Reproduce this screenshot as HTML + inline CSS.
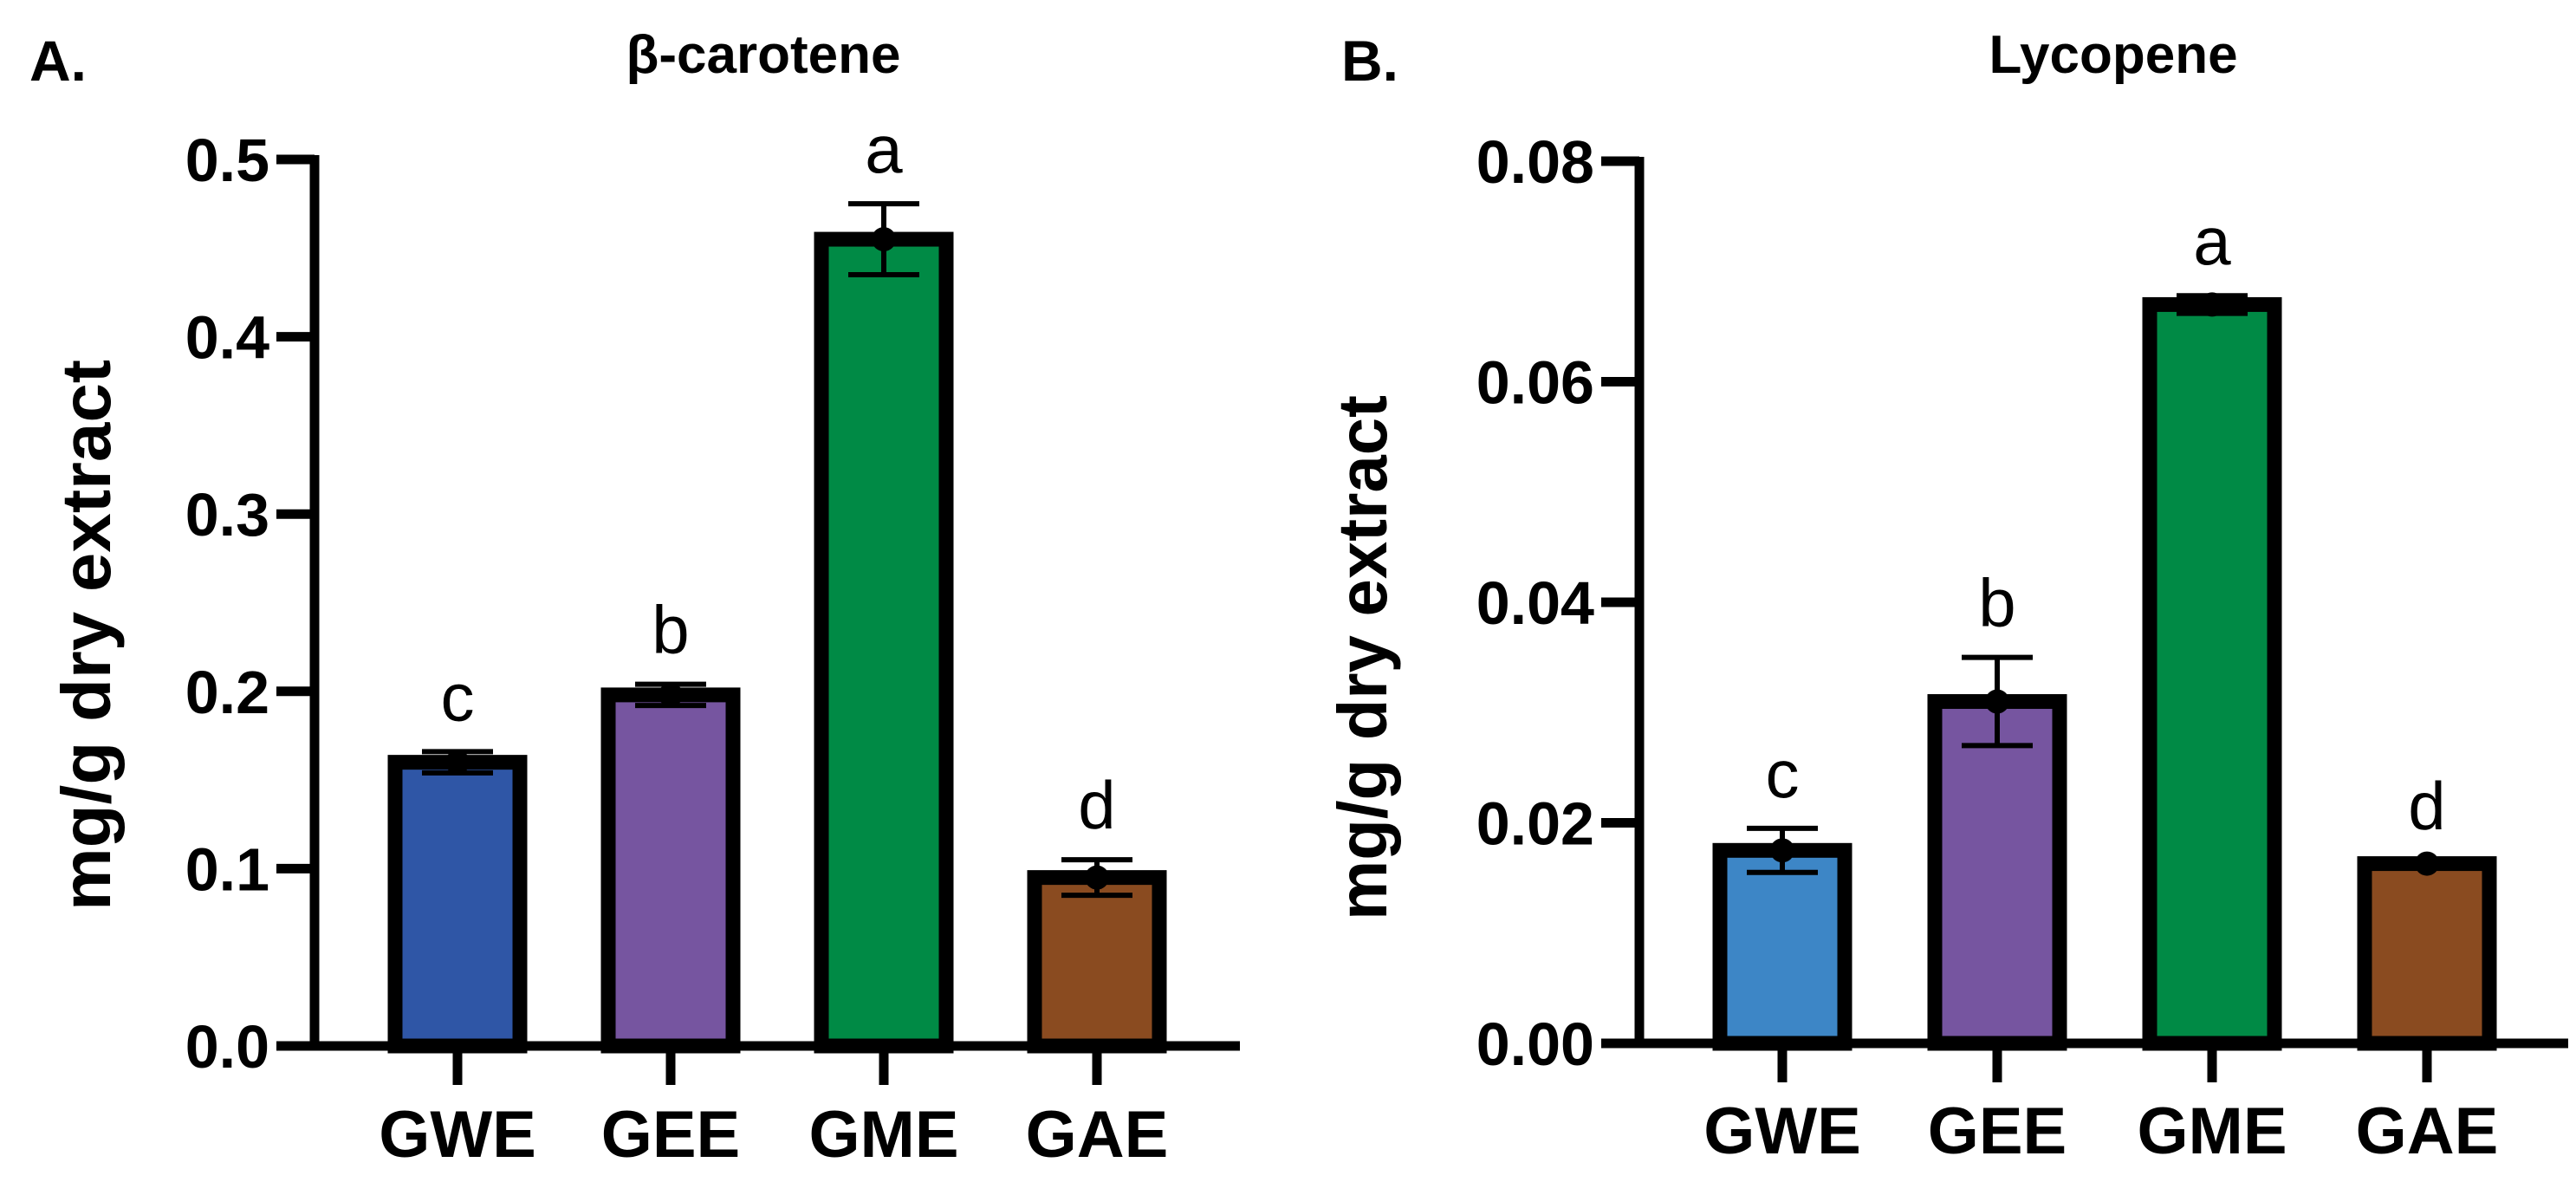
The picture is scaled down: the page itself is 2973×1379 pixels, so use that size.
<!DOCTYPE html>
<html><head><meta charset="utf-8"><style>
html,body{margin:0;padding:0;background:#fff;overflow:hidden;}
svg{display:block;font-family:"Liberation Sans",Arial,sans-serif;}
</style></head><body>
<svg id="fig" width="2973" height="1379" viewBox="0 0 2973 1379" xmlns="http://www.w3.org/2000/svg"></svg>
<script>
const categories = ["GWE","GEE","GME","GAE"];
const carotValues = [0.160, 0.198, 0.455, 0.095];
const carotErrors = [0.006, 0.006, 0.020, 0.010];
const carotLetters = ["c","b","a","d"];
const carotTicks = [0, 0.1, 0.2, 0.3, 0.4, 0.5];
const carotTickLabels = ["0.0","0.1","0.2","0.3","0.4","0.5"];
const lycoValues = [0.0175, 0.031, 0.067, 0.0163];
const lycoErrors = [0.0020, 0.0040, 0.0008, 0.0003];
const lycoLetters = ["c","b","a","d"];
const lycoTicks = [0, 0.02, 0.04, 0.06, 0.08];
const lycoTickLabels = ["0.00","0.02","0.04","0.06","0.08"];

const NS="http://www.w3.org/2000/svg";
const svg=document.getElementById('fig');
function mk(tag,attrs,parent,text){const e=document.createElementNS(NS,tag);for(const k in attrs)e.setAttribute(k,attrs[k]);if(text!==undefined)e.textContent=text;(parent||svg).appendChild(e);return e;}

function panel(cfg){
  const g=mk('g',{});
  
  
  const y=v=>cfg.y0-(v/cfg.max)*(cfg.y0-cfg.yTop);
  const x=i=>cfg.xs0+i*cfg.dx;
  cfg.values.forEach((v,i)=>{
    const bw=144, top=y(v), cx=x(i);
    const r=mk('rect',{x:cx-bw/2,y:top,width:bw,height:cfg.y0-top,fill:cfg.colors[i],stroke:'#000','stroke-width':17},g);
    
    
    const e=cfg.errors[i];
    const eb=mk('path',{d:`M${cx} ${y(v+e)}V${y(v-e)}M${cx-41} ${y(v+e)}H${cx+41}M${cx-41} ${y(v-e)}H${cx+41}`,stroke:'#000','stroke-width':6,fill:'none'},g);
    
    
    const d=mk('circle',{cx:cx,cy:top,r:14,fill:'#000'},g);
    
    
    const t=mk('text',{x:cx,y:y(v+e)-36,'text-anchor':'middle','font-size':78,fill:'#000'},g,cfg.letters[i]);
    
    
    const tk=mk('line',{x1:cx,y1:cfg.y0,x2:cx,y2:cfg.y0+45,stroke:'#000','stroke-width':11},g);
    
    
    const cl=mk('text',{x:cx,y:cfg.catY,'text-anchor':'middle','font-size':76,'font-weight':'bold'},g,categories[i]);
    
    
  });
  const ax=mk('path',{d:`M${cfg.ax} ${cfg.yTop-5}V${cfg.y0}H${cfg.xEnd}`,stroke:'#000','stroke-width':11,fill:'none'},g);
  
  
  cfg.ticks.forEach((tv,i)=>{
    const ty=y(tv);
    const l=mk('line',{x1:cfg.ax-44,y1:ty,x2:cfg.ax,y2:ty,stroke:'#000','stroke-width':11},g);
    
    
    const t=mk('text',{x:cfg.ax-52,y:ty+25,'text-anchor':'end','font-size':70,'font-weight':'bold'},g,cfg.tickLabels[i]);
    
    
  });
  const yt=mk('text',{x:0,y:0,'text-anchor':'middle','font-size':80,'font-weight':'bold',textLength:cfg.ytLen,lengthAdjust:'spacingAndGlyphs',transform:`translate(${cfg.ytx},${cfg.yty}) rotate(-90)`},g,'mg/g dry extract');
  
  
  const ti=mk('text',{x:cfg.titleX,y:84,'text-anchor':'middle','font-size':62,'font-weight':'bold'},g,cfg.title);
  
  
  const pl=mk('text',{x:cfg.lx,y:93,'font-size':66,'font-weight':'bold'},g,cfg.label);
  
  
}
panel({name:'beta-carotene-chart',values:carotValues,errors:carotErrors,letters:carotLetters,ticks:carotTicks,tickLabels:carotTickLabels,
  max:0.5,y0:1207,yTop:184,xs0:528,dx:246,ax:363,xEnd:1431,catY:1335,colors:['#2F56A6','#7655A0','#008A45','#8A4B20'],
  ytx:127,yty:733,ytLen:636,titleX:881,title:'β-carotene',lx:34,label:'A.'});
panel({name:'lycopene-chart',values:lycoValues,errors:lycoErrors,letters:lycoLetters,ticks:lycoTicks,tickLabels:lycoTickLabels,
  max:0.08,y0:1204,yTop:186,xs0:2057,dx:248,ax:1892,xEnd:2964,catY:1331,colors:['#3D86C6','#7655A0','#008A45','#8A4B20'],
  ytx:1600,yty:759,ytLen:606,titleX:2439,title:'Lycopene',lx:1548,label:'B.'});
</script>
</body></html>
